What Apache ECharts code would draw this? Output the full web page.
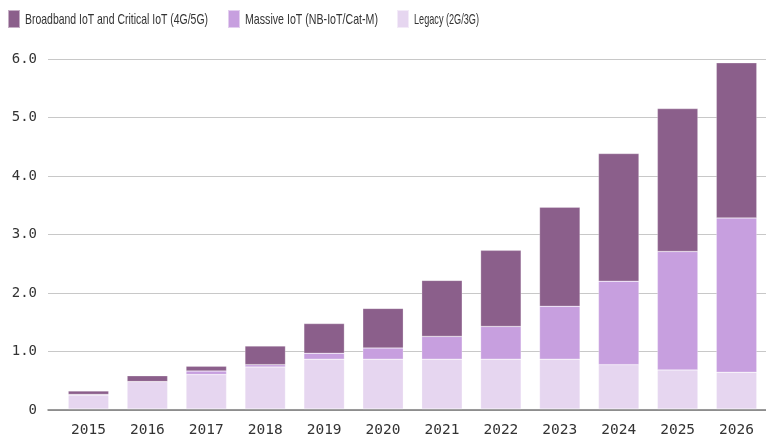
<!DOCTYPE html>
<html>
<head>
<meta charset="utf-8">
<script src="https://cdn.jsdelivr.net/npm/echarts@6/dist/echarts.min.js"></script>
<style>html,body{margin:0;padding:0;background:#fff}#c{width:766px;height:438px}</style>
</head>
<body>
<div id="c"></div>
<script>
const years = ['2015','2016','2017','2018','2019','2020','2021','2022','2023','2024','2025','2026'];
const legacy = [0.24, 0.47, 0.59, 0.72, 0.855, 0.855, 0.855, 0.855, 0.855, 0.76, 0.67, 0.63];
const massive = [0.01, 0.0, 0.06, 0.04, 0.10, 0.19, 0.39, 0.56, 0.905, 1.43, 2.03, 2.645];
const broadband = [0.06, 0.10, 0.085, 0.32, 0.51, 0.68, 0.96, 1.305, 1.70, 2.19, 2.45, 2.66];
const seriesNames = ['Broadband IoT and Critical IoT (4G/5G)', 'Massive IoT (NB-IoT/Cat-M)', 'Legacy (2G/3G)'];
const colors = ['#8b5f8b', '#c79fdf', '#e6d6f0'];
const yTicks = [0, 1, 2, 3, 4, 5, 6];

const legendPos = [7, 227, 396];
const legendTextWidth = [183, 133, 65];
const legendFont = '15px "Liberation Sans", Arial, sans-serif';
const mono = '"DejaVu Sans Mono",monospace';

const ctx = document.createElement('canvas').getContext('2d');
ctx.font = legendFont;

const chart = echarts.init(document.getElementById('c'), null, {renderer: 'canvas'});

chart.setOption({
  animation: false,
  legend: seriesNames.map((n, i) => ({
    data: [n], left: legendPos[i], top: 9, padding: 0, itemWidth: 12, itemHeight: 18, itemGap: 0,
    icon: 'rect', formatter: () => '', selectedMode: false, textStyle: {fontSize: 1, padding: 0}
  })),
  graphic: seriesNames.map((n, i) => ({
    type: 'text', x: legendPos[i] + 18, y: 19.5,
    scaleX: legendTextWidth[i] / ctx.measureText(n).width,
    style: {text: n, font: legendFont, fill: '#333', textVerticalAlign: 'middle', textAlign: 'left'},
    silent: true
  })),
  grid: [
    {left: 48, right: 0, top: 59, bottom: 28},
    {left: 59, right: -2, top: 59, bottom: 28}
  ],
  xAxis: [
    {gridIndex: 0, type: 'value', min: 0, max: 1, axisLabel: {show: false}, axisTick: {show: false},
     splitLine: {show: false}, axisLine: {show: true, lineStyle: {color: '#7a7a7a', width: 1.5}}},
    {gridIndex: 1, type: 'category', data: years, axisLine: {show: false}, axisTick: {show: false},
     axisLabel: {fontFamily: mono, fontSize: 14.5, color: '#333', margin: 14}}
  ],
  yAxis: [
    {gridIndex: 0, type: 'value', min: yTicks[0], max: yTicks[yTicks.length - 1], interval: 1,
     axisLine: {show: false}, axisTick: {show: false},
     axisLabel: {fontFamily: mono, fontSize: 14, color: '#333', margin: 11,
       formatter: v => v === 0 ? '0' : v.toFixed(1)},
     splitLine: {lineStyle: {color: '#c8c8c8', width: 1}}},
    {gridIndex: 1, type: 'value', min: 0, max: 6, show: false, splitLine: {show: false}}
  ],
  series: [
    {name: seriesNames[2], type: 'bar', stack: 't', data: legacy, xAxisIndex: 1, yAxisIndex: 1, barWidth: 40.5,
     itemStyle: {color: colors[2], borderColor: 'rgba(255,255,255,0.5)', borderWidth: 0.5}, silent: true},
    {name: seriesNames[1], type: 'bar', stack: 't', data: massive, xAxisIndex: 1, yAxisIndex: 1, barWidth: 40.5,
     itemStyle: {color: colors[1], borderColor: 'rgba(255,255,255,0.5)', borderWidth: 0.5}, silent: true},
    {name: seriesNames[0], type: 'bar', stack: 't', data: broadband, xAxisIndex: 1, yAxisIndex: 1, barWidth: 40.5,
     itemStyle: {color: colors[0], borderColor: 'rgba(255,255,255,0.5)', borderWidth: 0.5}, silent: true}
  ]
});
</script>
</body>
</html>
